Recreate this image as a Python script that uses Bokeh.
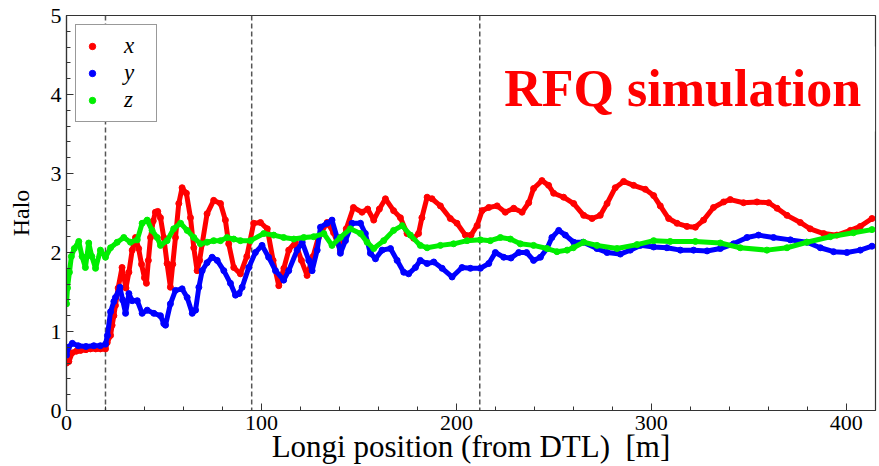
from bokeh.plotting import figure
from bokeh.models import (Span, Label, Legend, LegendItem,
                          SingleIntervalTicker, Range1d)
from bokeh.embed import file_html
from bokeh.resources import INLINE

# ---------------- data ----------------
x_pos = [0.0, 1.2, 2.9, 5.0, 7.2, 10.0, 12.3, 15.0, 17.4, 20.0, 20.9, 22.6, 23.4, 24.3,
         25.1, 26.5, 28.5, 30.5, 32.0, 33.7, 35.4, 37.0, 38.5, 40.0, 41.0, 42.0, 43.1,
         44.5, 45.6, 46.8, 48.2, 49.9, 51.6, 53.3, 54.5, 55.9, 57.6, 59.3, 61.5, 63.6,
         65.3, 67.0, 68.3, 69.6, 72.1, 75.5, 79.0, 81.5, 83.2, 85.8, 89.2, 92.5, 96.0,
         99.5, 103.0, 106.0, 108.9, 111.5, 114.0, 117.4, 120.5, 123.4, 126.5, 129.2,
         133.7, 137.0, 140.5, 143.5, 147.2, 151.6, 154.5, 157.6, 160.5, 163.6, 167.8,
         171.3, 174.7, 178.1, 180.6, 182.3, 185.0, 187.5, 191.8, 196.9, 200.3, 204.6,
         207.5, 210.6, 213.2, 216.6, 220.9, 225.1, 229.4, 233.7, 237.1, 239.6, 243.9,
         247.3, 249.9, 255.0, 260.2, 265.3, 269.6, 273.8, 277.3, 281.5, 285.8, 290.9,
         296.9, 301.2, 304.6, 308.9, 313.2, 318.3, 322.6, 326.8, 331.9, 337.1, 340.5,
         347.3, 354.2, 360.2, 364.5, 369.6, 376.4, 381.5, 388.4, 395.2, 402.1, 407.2,
         413.2]
x_halo = [0.60, 0.62, 0.73, 0.75, 0.76, 0.77, 0.78, 0.78, 0.78, 0.78, 0.86, 0.95, 1.08, 1.20,
          1.33, 1.55, 1.81, 1.55, 1.75, 2.03, 2.19, 2.05, 1.85, 1.68, 1.61, 1.90, 2.19,
          2.40, 2.51, 2.52, 2.44, 2.19, 1.86, 1.56, 1.85, 2.19, 2.62, 2.82, 2.75, 2.44,
          2.06, 1.77, 1.90, 2.11, 2.49, 2.66, 2.62, 2.41, 2.11, 1.81, 1.73, 1.95, 2.37,
          2.38, 2.30, 1.90, 1.58, 1.80, 2.03, 2.13, 1.90, 1.71, 1.95, 2.19,
          2.38, 2.25, 2.03, 2.30, 2.57, 2.51, 2.55, 2.41, 2.55, 2.68, 2.53,
          2.44, 2.24, 2.18, 2.24, 2.44, 2.70, 2.68, 2.59, 2.43, 2.37, 2.22,
          2.22, 2.34, 2.53, 2.57, 2.59, 2.51, 2.56, 2.51, 2.63, 2.81, 2.91,
          2.85, 2.75, 2.70, 2.62, 2.47, 2.43, 2.47, 2.62, 2.82, 2.90, 2.85,
          2.80, 2.72, 2.59, 2.43, 2.37, 2.33, 2.32, 2.41, 2.57, 2.64, 2.67,
          2.63, 2.64, 2.63, 2.56, 2.47, 2.38, 2.30, 2.24, 2.22, 2.28, 2.33,
          2.43]

y_pos = [0.0, 1.0, 3.0, 6.0, 10.0, 14.0, 17.4, 20.0, 21.0, 22.6, 24.3, 25.1, 27.4, 28.8,
         30.3, 32.0, 33.7, 36.3, 38.8, 41.4, 44.8, 48.2, 49.9, 50.8, 53.3, 55.9, 59.3,
         61.9, 64.5, 66.2, 67.9, 69.6, 72.1, 74.7, 77.3, 80.7, 84.1, 86.7, 88.5, 90.1,
         93.5, 96.9, 100.3, 103.7, 107.2, 111.4, 114.0, 118.3, 120.9, 124.3, 126.0,
         128.6, 130.3, 133.7, 136.2, 138.8, 140.5, 143.1, 146.5, 150.8, 153.3, 155.9,
         158.5, 161.9, 166.2, 169.6, 173.0, 175.5, 179.0, 181.5, 185.0, 188.4, 192.7,
         197.8, 202.9, 207.2, 212.3, 216.6, 220.0, 224.3, 228.0, 232.0, 236.0, 239.6,
         243.1, 246.5, 249.0, 252.5, 255.9, 260.2, 265.0, 272.1, 277.3, 284.1, 289.2,
         294.4, 301.2, 308.0, 314.9, 321.7, 328.6, 335.4, 342.2, 349.1, 355.0, 362.7,
         371.3, 379.8, 386.7, 393.5, 400.3, 407.2, 413.2]
y_halo = [0.70, 0.80, 0.85, 0.82, 0.81, 0.82, 0.82, 0.84, 0.95, 1.25, 1.38, 1.43, 1.56, 1.40,
          1.23, 1.48, 1.39, 1.39, 1.23, 1.27, 1.23, 1.20, 1.10, 1.08, 1.35, 1.52, 1.54,
          1.43, 1.23, 1.27, 1.56, 1.77, 1.87, 1.94, 1.90, 1.77, 1.61, 1.46, 1.48, 1.56,
          1.81, 2.00, 2.09, 1.94, 1.77, 1.65, 1.77, 2.03, 2.13, 1.90, 1.77,
          2.03, 2.32, 2.37, 2.41, 2.19, 1.99, 2.15, 2.37, 2.37, 2.24, 1.99,
          1.92, 2.03, 2.05, 1.90, 1.75, 1.73, 1.81, 1.90, 1.86, 1.88, 1.80,
          1.69, 1.81, 1.80, 1.80, 1.86, 2.00, 1.94, 1.93, 2.00, 2.00, 1.90,
          1.94, 2.05, 2.19, 2.28, 2.22, 2.13, 2.13, 2.05, 2.00, 1.98, 2.03,
          2.09, 2.07, 2.06, 2.03, 2.03, 2.02, 2.05, 2.11, 2.19, 2.22, 2.19,
          2.16, 2.13, 2.06, 2.01, 2.00, 2.03, 2.08]

z_pos = [0.0, 0.5, 1.5, 2.5, 4.0, 6.3, 8.0, 9.7, 11.4, 13.0, 14.9, 17.4, 20.0, 22.6, 26.0,
         29.4, 32.8, 36.3, 38.8, 41.4, 43.9, 46.5, 48.2, 51.6, 55.0, 58.5, 61.9, 65.3,
         68.7, 72.1, 75.5, 79.0, 82.4, 85.8, 89.2, 94.4, 101.2, 106.3, 111.4, 116.6,
         121.7, 126.8, 132.0, 136.2, 140.5, 145.6, 150.8, 154.2, 157.6, 162.7, 167.8,
         172.2, 176.4, 181.5, 185.0, 191.8, 198.6, 205.5, 212.3, 217.4, 222.6, 227.7,
         232.8, 239.6, 246.5, 251.6, 256.8, 260.0, 265.3, 272.1, 282.4, 292.7, 301.2,
         309.7, 322.6, 335.4, 345.6, 359.3, 369.6, 379.8, 391.8, 403.7, 413.2]
z_halo = [1.35, 1.55, 1.75, 1.95, 2.05, 2.14, 1.95, 1.81, 2.12, 1.95, 1.80, 2.03, 1.94, 2.06, 2.13,
          2.19, 2.13, 2.16, 2.37, 2.41, 2.28, 2.19, 2.09, 2.15, 2.30, 2.37, 2.28, 2.19,
          2.11, 2.13, 2.15, 2.15, 2.19, 2.17, 2.15, 2.15, 2.24, 2.22, 2.19, 2.17,
          2.19, 2.20, 2.24, 2.09, 2.19, 2.30, 2.24, 2.13, 2.05, 2.15, 2.28,
          2.34, 2.22, 2.09, 2.06, 2.09, 2.11, 2.15, 2.16, 2.15, 2.19, 2.17,
          2.11, 2.09, 2.05, 2.01, 2.03, 2.06, 2.13, 2.09, 2.05, 2.10, 2.15,
          2.14, 2.14, 2.12, 2.06, 2.03, 2.06, 2.13, 2.20, 2.25, 2.29]

section_marks = [20, 95, 212]
x_ticks_interval = 100
y_ticks_interval = 1
series_labels = ["x", "y", "z"]
annotation_text = "RFQ simulation"

# ---------------- figure ----------------
SERIF = "Liberation Serif"
p = figure(width=879, height=466, x_range=Range1d(0, 415), y_range=Range1d(0, 5),
           output_backend="svg", toolbar_location=None,
           min_border_left=66, min_border_right=4, min_border_top=15, min_border_bottom=56)
p.background_fill_color = "white"
p.border_fill_color = "white"
p.outline_line_color = "#333333"
p.outline_line_width = 1.2
p.xgrid.visible = False
p.ygrid.visible = False

for xm in section_marks:
    p.add_layout(Span(location=xm, dimension="height", line_color="#555555",
                      line_dash="5 3", line_width=1.5, level="underlay"))

colors = ["#ff0000", "#0000ff", "#00ee00"]
data = [(x_pos, x_halo), (y_pos, y_halo), (z_pos, z_halo)]
dot_renderers = []
for (xs, ys), c in zip(data, colors):
    p.line(xs, ys, line_color=c, line_width=5, line_join="round", line_cap="round")
    r = p.scatter(xs, ys, size=6, fill_color=c, line_color=c)
    dot_renderers.append(r)

for ax in (p.xaxis[0], p.yaxis[0]):
    ax.axis_line_color = "#333333"
    ax.axis_line_width = 1.2
    ax.major_tick_line_color = "#333333"
    ax.minor_tick_line_color = "#333333"
    ax.major_tick_in = 7
    ax.major_tick_out = 0
    ax.minor_tick_in = 4
    ax.minor_tick_out = 0
    ax.major_label_text_font = SERIF
    ax.major_label_text_color = "black"
    ax.major_label_text_font_size = "22px"
    ax.major_label_standoff = 5
    ax.axis_label_text_font = SERIF
    ax.axis_label_text_font_style = "normal"
    ax.axis_label_text_color = "black"

p.xaxis.ticker = SingleIntervalTicker(interval=x_ticks_interval, num_minor_ticks=5)
p.yaxis.ticker = SingleIntervalTicker(interval=y_ticks_interval, num_minor_ticks=5)
p.xaxis.axis_label = "Longi position (from DTL)\u00a0\u00a0[m]"
p.xaxis.axis_label_text_font_size = "31px"
p.xaxis.axis_label_standoff = -4
p.yaxis.axis_label = "Halo"
p.yaxis.axis_label_text_font_size = "24px"
p.yaxis.axis_label_standoff = 14

p.add_layout(Label(x=217.4, y=4.07, text=annotation_text, text_font=SERIF,
                   text_font_style="bold", text_font_size="52px", text_color="#ff0000",
                   text_baseline="alphabetic", background_fill_color="white",
                   background_fill_alpha=1.0, padding=14))

legend = Legend(items=[LegendItem(label=lab, renderers=[r])
                       for lab, r in zip(series_labels, dot_renderers)],
                location="top_left")
legend.label_text_font = SERIF
legend.label_text_font_style = "italic"
legend.label_text_font_size = "23px"
legend.label_text_color = "black"
legend.border_line_color = "#333333"
legend.border_line_width = 1.2
legend.background_fill_alpha = 1.0
legend.margin = 9
legend.padding = 8
legend.spacing = 1
legend.glyph_width = 16
legend.glyph_height = 20
legend.label_height = 20
legend.label_width = 24
legend.label_standoff = 24
p.add_layout(legend, "center")

open("out.html", "w").write(file_html(p, INLINE))
